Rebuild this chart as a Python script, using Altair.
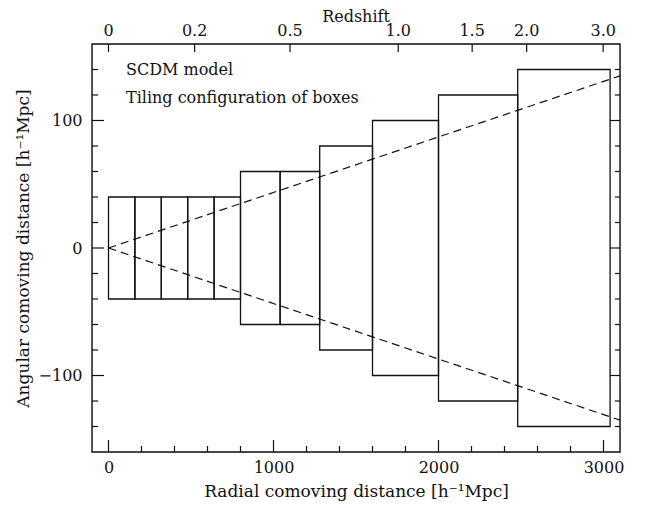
import altair as alt
import pandas as pd

# ---- data ----
box_start = [0, 160, 320, 480, 640, 800, 1040, 1280, 1600, 2000, 2480]
box_end = [160, 320, 480, 640, 800, 1040, 1280, 1600, 2000, 2480, 3040]
box_half = [40, 40, 40, 40, 40, 60, 60, 80, 100, 120, 140]

cone_x = [0, 3100, 0, 3100]
cone_y = [0, 135, 0, -135]
cone_side = ["upper", "upper", "lower", "lower"]

z_labels = ["0", "0.2", "0.5", "1.0", "1.5", "2.0", "3.0"]
z_pos = [0, 522, 1100, 1756, 2204, 2534, 2998]

x_major = [0, 1000, 2000, 3000]
x_minor = [v for v in range(200, 3100, 200) if v % 1000 != 0]
y_major = [-100, 0, 100]
y_minor = [v for v in range(-140, 160, 20) if v % 100 != 0]

W, H = 528, 408
FONT = "DejaVu Serif"
INK = "#111111"

xs = alt.Scale(domain=[-100, 3100], nice=False, zero=False)
ys = alt.Scale(domain=[-160, 160], nice=False, zero=False)

AX = alt.Axis(
    values=x_major, format="d", ticks=False, tickSize=0, domain=False,
    grid=False, labelFont=FONT, labelFontSize=16, labelColor=INK,
    labelPadding=7, title="Radial comoving distance [h⁻¹Mpc]",
    titleFont=FONT, titleFontSize=17, titleFontWeight="normal",
    titleColor=INK, titlePadding=8)
AY = alt.Axis(
    values=y_major, format="d", ticks=False, tickSize=0, domain=False,
    grid=False, labelFont=FONT, labelFontSize=16, labelColor=INK,
    labelPadding=10, title="Angular comoving distance [h⁻¹Mpc]",
    titleFont=FONT, titleFontSize=17, titleFontWeight="normal",
    titleColor=INK, titlePadding=6)

boxes = pd.DataFrame({
    "x0": box_start, "x1": box_end,
    "y0": [-h for h in box_half], "y1": box_half,
})
cone = pd.DataFrame({"x": cone_x, "y": cone_y, "side": cone_side})
zdf = pd.DataFrame({"pos": z_pos, "label": z_labels})

rect = alt.Chart(boxes).mark_rect(
    fillOpacity=0, stroke=INK, strokeWidth=1.3
).encode(
    x=alt.X("x0:Q", scale=xs, axis=AX),
    x2="x1:Q",
    y=alt.Y("y0:Q", scale=ys, axis=AY),
    y2="y1:Q",
)

lines = alt.Chart(cone).mark_line(
    color=INK, strokeWidth=1.2, strokeDash=[8, 5]
).encode(
    x=alt.X("x:Q", scale=xs, axis=AX),
    y=alt.Y("y:Q", scale=ys, axis=AY),
    detail="side:N",
)

def xticks(vals, y0, y1):
    return alt.Chart(pd.DataFrame({"v": vals})).mark_rule(
        color=INK, strokeWidth=1.2
    ).encode(
        x=alt.X("v:Q", scale=xs, axis=AX),
        y=alt.value(y0), y2=alt.value(y1),
    )

def yticks(vals, x0, x1):
    return alt.Chart(pd.DataFrame({"v": vals})).mark_rule(
        color=INK, strokeWidth=1.2
    ).encode(
        y=alt.Y("v:Q", scale=ys, axis=AY),
        x=alt.value(x0), x2=alt.value(x1),
    )

ticks = [
    xticks(x_major, H, H - 12),
    xticks(x_minor, H, H - 6),
    yticks(y_major, 0, 12),
    yticks(y_minor, 0, 6),
    yticks(y_major, W, W - 10),
    yticks(y_minor, W, W - 5),
    xticks(z_pos, 0, 8),
]

ztext = alt.Chart(zdf).mark_text(
    font=FONT, fontSize=16, color=INK, baseline="alphabetic"
).encode(
    x=alt.X("pos:Q", scale=xs, axis=AX),
    y=alt.value(-8),
    text="label:N",
)

frame = alt.Chart(pd.DataFrame({"t": [0]})).mark_rect(
    fillOpacity=0, stroke=INK, strokeWidth=1.4
).encode(
    x=alt.value(0), x2=alt.value(W), y=alt.value(0), y2=alt.value(H)
)

def label(txt, x, y, size, align="left"):
    return alt.Chart(pd.DataFrame({"t": [txt]})).mark_text(
        font=FONT, fontSize=size, color=INK, align=align, baseline="middle"
    ).encode(x=alt.value(x), y=alt.value(y), text="t:N")

redshift = alt.Chart(pd.DataFrame({"t": ["Redshift"]})).mark_text(
    font=FONT, fontSize=16, color=INK, align="center", baseline="alphabetic"
).encode(x=alt.value(W / 2), y=alt.value(-22), text="t:N")

texts = [
    redshift,
    label("SCDM model", 34, 26, 16),
    label("Tiling configuration of boxes", 34, 54, 16),
]

chart = alt.layer(frame, rect, lines, *ticks, ztext, *texts).properties(
    width=W, height=H,
    autosize=alt.AutoSizeParams(type="none"),
    padding={"left": 84, "top": 36, "right": 22, "bottom": 56},
).configure_view(
    strokeWidth=0
).configure(background="white")

chart.save("out.html", embed_options={"renderer": "svg", "actions": False})
